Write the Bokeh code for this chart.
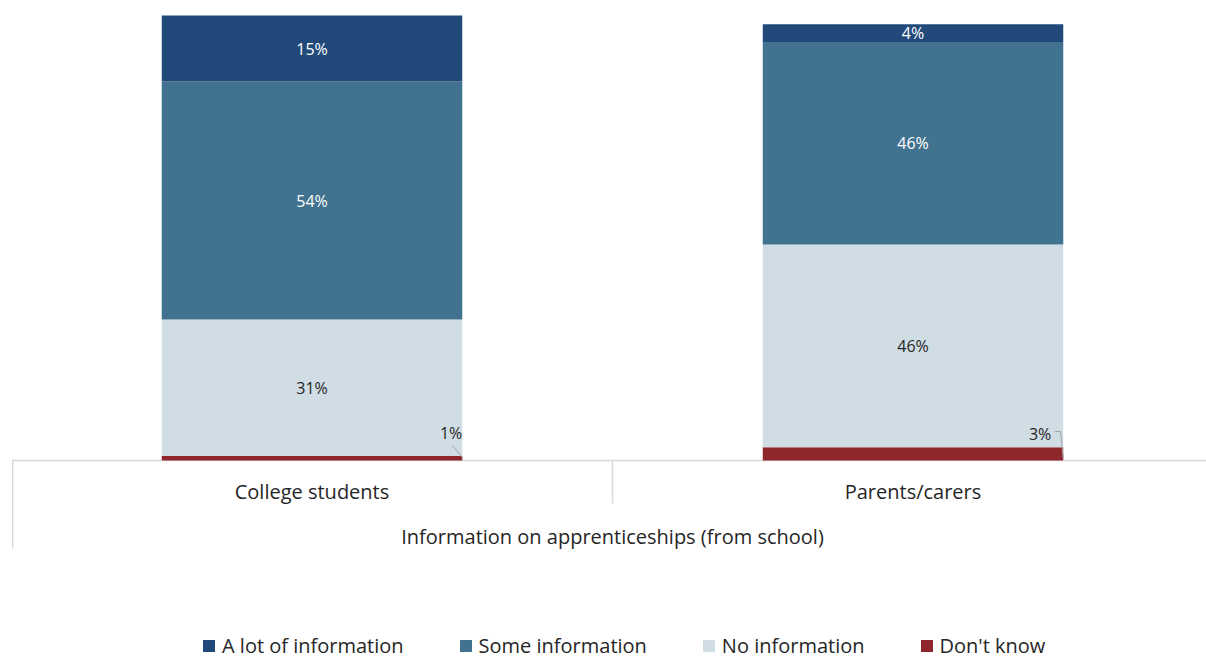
from bokeh.plotting import figure
from bokeh.models import ColumnDataSource, Range1d, Legend, LegendItem
from bokeh.core.properties import value
from bokeh.embed import file_html
from bokeh.resources import INLINE

categories = ["College students", "Parents/carers"]
series = ["Don't know", "No information", "Some information", "A lot of information"]
dont_know = [1, 3]
no_info = [31, 46]
some_info = [54, 46]
a_lot = [15, 4]
colors = ["#8e272b", "#d0dde5", "#41728f", "#214a7b"]
axis_title = "Information on apprenticeships (from school)"

FONT = "Open Sans"
W, H = 1206, 659
PXU = 4.406  # pixels per percentage unit
def ypx(page_y):
    return (460 - page_y) / PXU
def xpx(page_x):
    return (page_x - 11) / 601.0

xs = [0.5, 1.5]
src = ColumnDataSource(dict(x=xs, **{"Don't know": dont_know, "No information": no_info,
                                      "Some information": some_info, "A lot of information": a_lot}))

p = figure(width=W, height=H, output_backend="svg", toolbar_location=None,
           x_range=Range1d(0, xpx(W)), y_range=Range1d(ypx(H), ypx(0)),
           min_border_left=11, min_border_right=0, min_border_top=0, min_border_bottom=0)
p.xaxis.visible = False
p.yaxis.visible = False
p.xgrid.visible = False
p.ygrid.visible = False
p.outline_line_color = None
p.background_fill_color = "white"
p.border_fill_color = "white"

# axis lines
p.segment(x0=[0], y0=[0], x1=[xpx(W)], y1=[0], line_color="#d9d9d9", line_width=1.5)
p.segment(x0=[0.002, 1], y0=[0, 0], x1=[0.002, 1], y1=[ypx(548), ypx(503)], line_color="#d9d9d9", line_width=1.5)

rs = p.vbar_stack(series, x="x", width=0.5, color=colors, line_color=None, source=src)

# segment labels
vals = [dont_know, no_info, some_info, a_lot]
txt_col = ["#262626", "#262626", "white", "white"]
lx, ly, lt, lc = [], [], [], []
for ci in range(2):
    base = 0
    for si in range(4):
        v = vals[si][ci]
        if si > 0:
            lx.append(xs[ci]); ly.append(base + v / 2); lt.append(f"{v}%"); lc.append(txt_col[si])
        base += v
p.text(x=lx, y=ly, text=lt, text_color=lc, text_align="center", text_baseline="middle",
       text_font=value(FONT), text_font_size="16px")

# small "Don't know" labels with leader lines
p.text(x=[0.75, 1.75], y=[ypx(432), ypx(433)], text=[f"{dont_know[0]}%", f"{dont_know[1]}%"],
       x_offset=[0, -12], text_color="#262626", text_align="right", text_baseline="middle",
       text_font=value(FONT), text_font_size="16px")
p.segment(x0=[xpx(452), xpx(1054), xpx(1060)], y0=[ypx(445), ypx(431), ypx(431)],
          x1=[0.75, xpx(1060), 1.75], y1=[ypx(457), ypx(431), ypx(458)],
          line_color="#a6a6a6", line_width=1)

# category labels & axis title
p.text(x=xs, y=[ypx(491)] * 2, text=categories, text_align="center", text_baseline="middle",
       text_color="#262626", text_font=value(FONT), text_font_size="20px")
p.text(x=[1.0], y=[ypx(536)], text=[axis_title], text_align="center", text_baseline="middle",
       text_color="#262626", text_font=value(FONT), text_font_size="20px")

legend = Legend(items=[LegendItem(label=series[i], renderers=[rs[i]]) for i in [3, 2, 1, 0]],
                orientation="horizontal", location=(190, 0), padding=0, margin=0,
                border_line_color=None, background_fill_alpha=0,
                glyph_width=15, glyph_height=15, label_standoff=6, spacing=54,
                label_text_font=FONT, label_text_font_size="20px", label_text_color="#262626")
p.add_layout(legend, "center")

open("out.html", "w").write(file_html(p, INLINE))
